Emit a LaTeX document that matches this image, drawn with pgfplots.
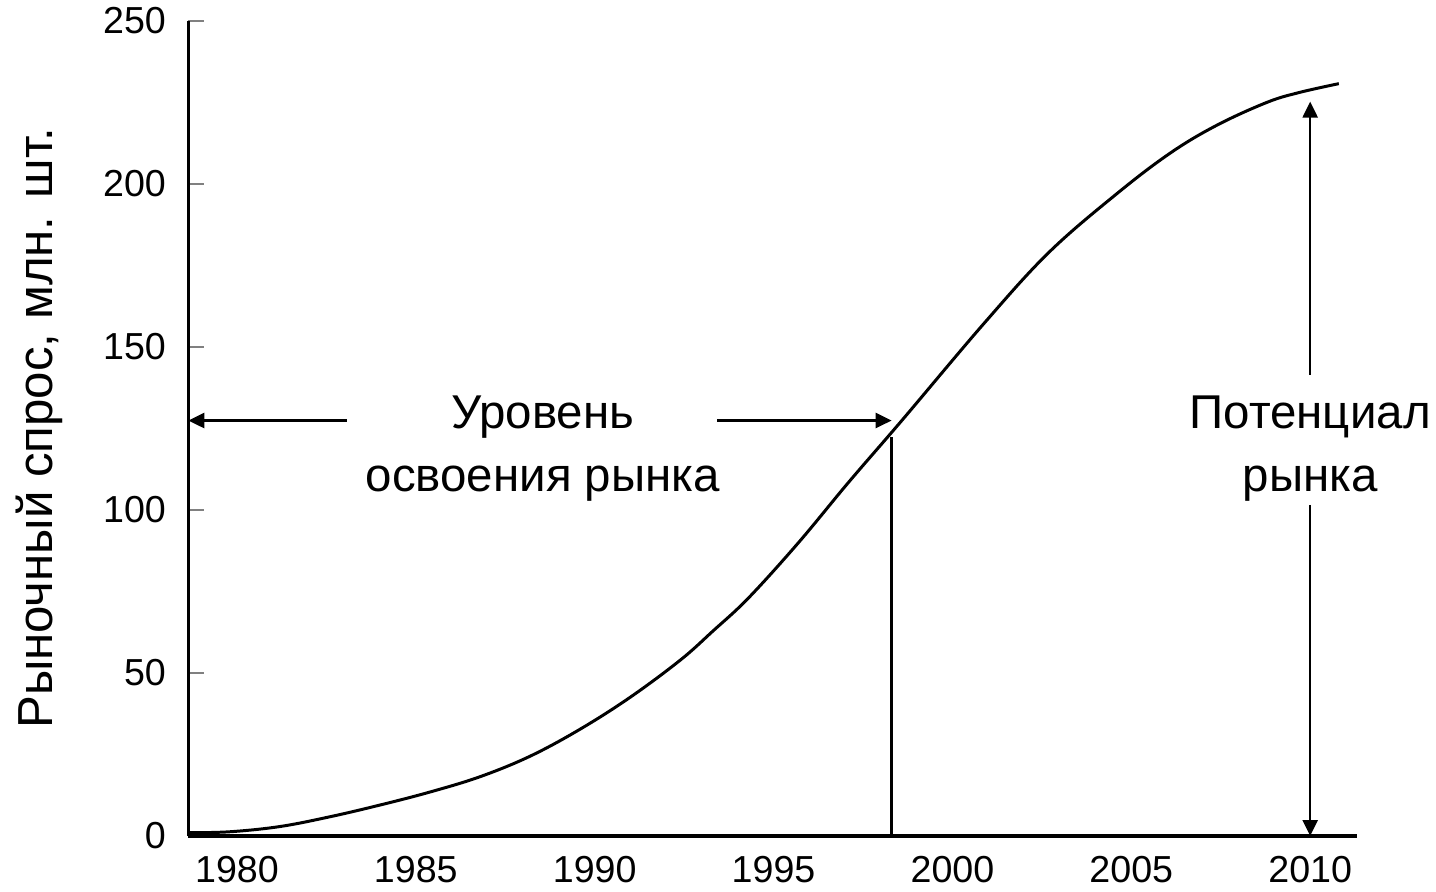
\documentclass[border=0pt]{standalone}
\usepackage{fontspec}
\setmainfont{Liberation Sans}
\usepackage{pgfplots}
\pgfplotsset{compat=1.18}
\usetikzlibrary{arrows.meta}
\begin{document}
\begin{tikzpicture}
\begin{axis}[
  at={(18.83mm,5.5mm)}, anchor=south west,
  scale only axis, width=116.84mm, height=81.53mm,
  xmin=1978.64, xmax=2011.3, ymin=0, ymax=250,
  axis x line=bottom, axis y line=left,
  axis line style={-, line width=0.9pt},
  xtick={1980,1985,...,2010},
  ytick={0,50,...,250},
  x tick style={draw=none},
  y tick style={line width=0.6pt},
  tick align=inside, major tick length=1.6mm,
  /pgf/number format/1000 sep={},
  /pgf/number format/assume math mode=true,
  tick label style={font=\fontsize{10.7}{12}\selectfont},
  yticklabel style={xshift=-1mm},
  xticklabel style={yshift=-0.8mm},
  ylabel={Рыночный спрос, млн. шт.},
  ylabel style={font=\fontsize{14}{16}\selectfont, yshift=1.6mm},
  clip=false,
]
\addplot[black, line width=0.85pt, smooth, tension=0.6] coordinates {
(1978.64,1.0) (1979.8,1.3) (1981.2,2.9) (1982.6,5.9) (1984.0,9.5)
(1985.4,13.5) (1986.8,18.2) (1988.2,24.5) (1989.6,32.8) (1991.0,42.6) (1992.4,54.0)
(1993.3,62.8) (1994.3,73.0) (1995.7,90.0) (1997.1,108.5) (1998.6,127.6)
(2000.9,157.4) (2002.7,179.0) (2004.6,197.0) (2006.1,209.5)
(2007.4,218.0) (2008.8,225.0) (2009.7,228.0) (2010.8,230.7)
};
\draw[line width=0.7pt] (axis cs:1998.3,0) -- (axis cs:1998.3,122.4);
\draw[line width=0.7pt, {Triangle[length=1.6mm,width=1.5mm]}-]
  (axis cs:1978.64,127.4) -- (axis cs:1983.08,127.4);
\draw[line width=0.7pt, -{Triangle[length=1.6mm,width=1.5mm]}]
  (axis cs:1993.42,127.4) -- (axis cs:1998.3,127.4);
\draw[line width=0.7pt, -{Triangle[length=1.6mm,width=1.5mm]}]
  (axis cs:2010,141.4) -- (axis cs:2010,225.2);
\draw[line width=0.7pt, -{Triangle[length=1.6mm,width=1.5mm]}]
  (axis cs:2010,101.5) -- (axis cs:2010,0);
\node[align=center, anchor=base, font=\fontsize{13.5}{18}\selectfont]
  at (axis cs:1988.55,105.5) {Уровень\\освоения рынка};
\node[align=center, anchor=base, font=\fontsize{13.5}{18}\selectfont]
  at (axis cs:2010,105.5) {Потенциал\\рынка};
\end{axis}
\pgfresetboundingbox
\path[use as bounding box] (0,0) rectangle (143.6mm,89.1mm);
\end{tikzpicture}
\end{document}
